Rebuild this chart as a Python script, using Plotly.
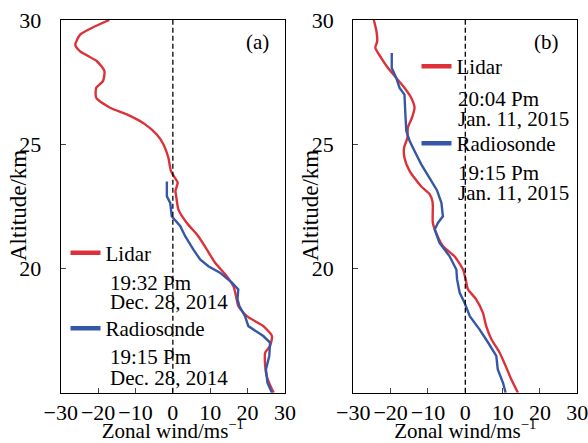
import plotly.graph_objects as go

# ---------------- data ----------------
lidar_a_alt = [30.0, 29.68, 29.41, 29.0, 28.74, 28.34, 27.94, 27.54, 27.27, 26.87, 26.47, 26.2, 25.8,
               25.39, 24.99, 24.46, 23.92, 23.52, 23.45, 23.12, 22.9, 22.37, 21.84, 21.3, 20.76, 20.23,
               19.69, 19.29, 18.89, 18.49, 18.08, 17.68, 17.28, 16.88, 16.61, 16.08, 15.67, 15.14, 15.0]
lidar_a_wind = [-17.0, -21.7, -24.8, -26.1, -24.8, -20.3, -18.3, -18.7, -20.5, -20.5, -16.8, -12.3, -7.4,
                -4.3, -2.5, -1.2, -0.5, 1.1, 1.3, 0.7, 0.9, 1.5, 3.7, 6.8, 9.1, 11.3,
                14.4, 16.2, 16.9, 17.5, 19.8, 24.2, 26.5, 26.0, 24.7, 24.7, 25.1, 26.5, 27.0]

sonde_a_alt = [23.5, 22.9, 22.64, 22.1, 21.7, 21.3, 20.76, 20.36, 20.09, 19.83, 19.43, 19.16, 18.76,
               18.49, 18.08, 17.68, 17.28, 17.02, 16.48, 15.94, 15.4, 15.0]
sonde_a_wind = [-1.6, -1.6, -0.7, -0.3, 2.0, 3.3, 5.5, 7.3, 9.5, 12.6, 15.8, 17.5, 17.3,
                17.8, 19.3, 20.2, 24.2, 26.0, 25.8, 24.9, 25.3, 26.5]

lidar_b_alt = [30.0, 29.55, 29.14, 28.88, 28.47, 28.07, 27.67, 27.27, 26.87, 26.47, 26.06, 25.66, 25.26,
               24.86, 24.46, 23.92, 23.3, 23.0, 22.7, 22.5, 21.84, 21.43, 20.9, 20.49, 19.96, 19.56,
               19.16, 18.76, 18.22, 17.68, 17.15, 16.61, 16.08, 15.54, 15.0]
lidar_b_wind = [-24.5, -23.8, -23.6, -24.1, -22.5, -20.7, -18.5, -16.3, -14.5, -13.6, -14.3, -15.4, -15.5,
                -16.4, -16.3, -14.9, -11.8, -9.6, -8.8, -8.7, -8.7, -7.8, -6.0, -2.9, -0.6, 0.1,
                0.7, 2.9, 4.7, 5.6, 7.0, 9.2, 10.8, 12.3, 14.1]

sonde_b_alt = [28.67, 28.07, 27.67, 27.27, 27.0, 26.6, 26.06, 25.53, 25.13, 24.73, 24.19, 23.65, 23.15,
               22.64, 22.1, 21.84, 21.57, 21.03, 20.49, 19.96, 19.56, 19.02, 18.62, 18.08, 17.55,
               17.02, 16.48, 15.94, 15.4, 15.0]
sonde_b_wind = [-19.7, -19.7, -18.5, -17.6, -16.3, -16.1, -16.0, -15.8, -14.9, -13.6, -11.8, -9.6, -7.6,
                -6.4, -6.0, -7.3, -8.2, -6.9, -4.2, -2.4, -2.2, -1.5, -0.2, 1.2, 3.8,
                6.1, 8.3, 8.7, 10.1, 10.8]

x_ticks = [-30, -20, -10, 0, 10, 20, 30]
y_ticks = [20, 25, 30]
panel_labels = ["(a)", "(b)"]
x_title = "Zonal wind/ms<sup>−1</sup>"
y_title = "Altitude/km"
legend_names = ["Lidar", "Radiosonde"]
legend_times_a = [["19:32 Pm", "Dec. 28, 2014"], ["19:15 Pm", "Dec. 28, 2014"]]
legend_times_b = [["20:04 Pm", "Jan. 11, 2015"], ["19:15 Pm", "Jan. 11, 2015"]]

RED = "#dc3139"
BLUE = "#3557a8"
FONT = "Liberation Serif"
W, H = 588, 443

def px(x):
    return x / W

def py(y):
    return 1 - y / H

fig = go.Figure()

# data traces
fig.add_trace(go.Scatter(x=lidar_a_wind, y=lidar_a_alt, mode="lines", line=dict(color=RED, width=2.4, shape="spline", smoothing=0.6),
                         xaxis="x", yaxis="y", showlegend=False))
fig.add_trace(go.Scatter(x=sonde_a_wind, y=sonde_a_alt, mode="lines", line=dict(color=BLUE, width=2.4),
                         xaxis="x", yaxis="y", showlegend=False))
fig.add_trace(go.Scatter(x=lidar_b_wind, y=lidar_b_alt, mode="lines", line=dict(color=RED, width=2.4, shape="spline", smoothing=0.6),
                         xaxis="x2", yaxis="y2", showlegend=False))
fig.add_trace(go.Scatter(x=sonde_b_wind, y=sonde_b_alt, mode="lines", line=dict(color=BLUE, width=2.4),
                         xaxis="x2", yaxis="y2", showlegend=False))

# legend entries (one legend per entry for exact placement)
legend_specs = [
    ("legend", legend_names[0], RED, "x", "y"),
    ("legend2", legend_names[1], BLUE, "x", "y"),
    ("legend3", legend_names[0], RED, "x2", "y2"),
    ("legend4", legend_names[1], BLUE, "x2", "y2"),
]
for lg, name, col, xa, ya in legend_specs:
    fig.add_trace(go.Scatter(x=[None], y=[None], mode="lines", name=name, line=dict(color=col, width=4.5),
                             xaxis=xa, yaxis=ya, legend=lg, showlegend=True))

# legend placements (pixel positions of the sample line)
leg_pos = {"legend": (65.5, 253), "legend2": (65.5, 328.5), "legend3": (416.5, 66.5), "legend4": (416.5, 143.5)}
lg_layout = {}
for k, (lx, ly) in leg_pos.items():
    lg_layout[k] = dict(x=px(lx), y=py(ly), xanchor="left", yanchor="middle", bgcolor="rgba(0,0,0,0)",
                        font=dict(family=FONT, size=21, color="black"), borderwidth=0,
                        itemwidth=30, tracegroupgap=0)

axis_common = dict(range=[-30, 30], tickvals=x_ticks, ticks="inside", ticklen=5, tickwidth=1.2,
                   showline=True, linecolor="black", linewidth=1.3, mirror=True, showgrid=False,
                   zeroline=False, tickangle=0, automargin=False, ticklabeloverflow="allow",
                   tickfont=dict(family=FONT, size=22, color="black"),
                   title=dict(text=x_title, font=dict(family=FONT, size=21, color="black"), standoff=0))
yaxis_common = dict(range=[15, 30], tickvals=y_ticks, ticks="inside", ticklen=5, tickwidth=1.2,
                    showline=True, linecolor="black", linewidth=1.3, mirror=True, showgrid=False,
                    zeroline=False, automargin=False, ticklabelstandoff=14, ticklabeloverflow="allow",
                    tickfont=dict(family=FONT, size=22, color="black"))

fig.update_layout(
    width=W, height=H,
    margin=dict(l=0, r=0, t=0, b=0),
    paper_bgcolor="white", plot_bgcolor="white",
    xaxis=dict(domain=[px(60.7), px(285)], anchor="y", **axis_common),
    yaxis=dict(domain=[py(392.7), py(20)], anchor="x", **yaxis_common),
    xaxis2=dict(domain=[px(353.3), px(577.3)], anchor="y2", **axis_common),
    yaxis2=dict(domain=[py(392.7), py(20)], anchor="x2", **yaxis_common),
    **lg_layout,
)

# y-axis titles
for tx in (19, 311):
    fig.add_annotation(x=px(tx), y=py(206), xref="paper", yref="paper", text=y_title, showarrow=False,
                       textangle=-90, font=dict(family=FONT, size=23, color="black"),
                       xanchor="center", yanchor="middle")

# dashed zero reference lines
for xr, yr in [("x", "y domain"), ("x2", "y2 domain")]:
    fig.add_shape(type="line", xref=xr, yref=yr, x0=0, x1=0, y0=0, y1=1,
                  line=dict(color="black", width=1.3, dash="5px,3px"))

# panel labels
fig.add_annotation(x=px(257), y=py(42), xref="paper", yref="paper", text=panel_labels[0], showarrow=False,
                   font=dict(family=FONT, size=21, color="black"), xanchor="center", yanchor="middle")
fig.add_annotation(x=px(546), y=py(42), xref="paper", yref="paper", text=panel_labels[1], showarrow=False,
                   font=dict(family=FONT, size=21, color="black"), xanchor="center", yanchor="middle")

# legend time/date lines
time_lines = [
    (109, [282.7, 301.7], legend_times_a[0]),
    (109, [356.7, 377.7], legend_times_a[1]),
    (456.7, [99.3, 118.7], legend_times_b[0]),
    (456.7, [173.3, 192.7], legend_times_b[1]),
]
for tx, ys, texts in time_lines:
    for yy, t in zip(ys, texts):
        fig.add_annotation(x=px(tx), y=py(yy), xref="paper", yref="paper", text=t, showarrow=False,
                           font=dict(family=FONT, size=21, color="black"), xanchor="left", yanchor="middle",
                           xshift=-1)

fig.write_html("out.html")
